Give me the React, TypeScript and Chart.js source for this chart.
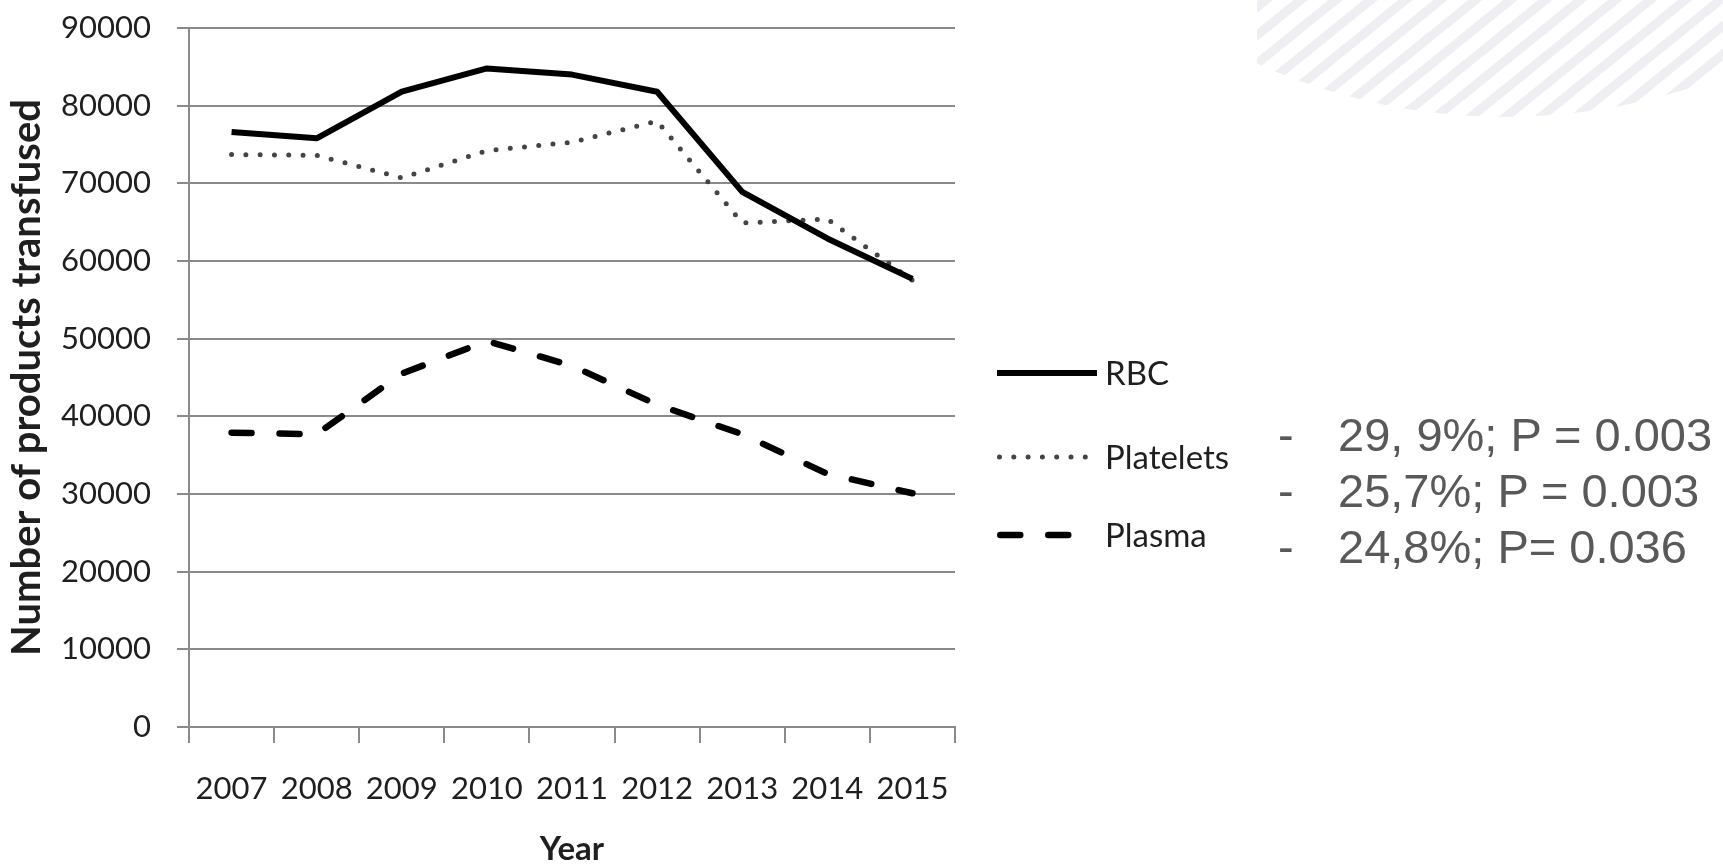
import React, { useEffect, useRef } from "react";
import { Chart, registerables } from "chart.js";

Chart.register(...registerables);

// ---- data ----
const years = ["2007", "2008", "2009", "2010", "2011", "2012", "2013", "2014", "2015"];
const rbc = [76600, 75800, 81800, 84800, 84000, 81800, 68900, 62900, 57700];
const platelets = [73700, 73600, 70700, 74200, 75300, 78000, 64900, 65400, 57500];
const plasma = [37900, 37700, 45500, 49700, 46500, 41500, 37700, 32600, 30100];
const seriesLabels = ["RBC", "Platelets", "Plasma"];
const yMin = 0;
const yMax = 90000;
const yStep = 10000;
const yTitle = "Number of products transfused";
const xTitle = "Year";
const statLines = ["29, 9%; P = 0.003", "25,7%; P = 0.003", "24,8%; P= 0.036"];

// ---- styling ----
const GRID = "#8a8a8a";
const TEXT = "#1f1f1f";
const legendRows = [373, 457, 535];
const legendEnds = [1097, 1086, 1068.25];

const sideLegend = {
  id: "sideLegend",
  afterDraw(chart: any) {
    const ctx = chart.ctx;
    chart.data.datasets.forEach((ds: any, i: number) => {
      const y = legendRows[i];
      ctx.save();
      ctx.strokeStyle = ds.borderColor;
      ctx.lineWidth = ds.borderWidth;
      ctx.lineCap = ds.borderCapStyle || "butt";
      ctx.setLineDash(ds.borderDash || []);
      const x0 = ds.borderCapStyle === "round" ? 997 + ds.borderWidth / 2 : 997;
      ctx.beginPath();
      ctx.moveTo(x0, y);
      ctx.lineTo(legendEnds[i], y);
      ctx.stroke();
      ctx.setLineDash([]);
      ctx.fillStyle = TEXT;
      ctx.font = '33px Lato, "Open Sans", sans-serif';
      ctx.textBaseline = "middle";
      ctx.textAlign = "left";
      ctx.fillText(ds.label, 1105, y + 1);
      ctx.restore();
    });
  },
};

export default function App() {
  const ref = useRef<HTMLCanvasElement | null>(null);

  useEffect(() => {
    if (!ref.current) return;
    let alive = true;
    const chart = new Chart(ref.current, {
      type: "line",
      data: {
        labels: years,
        datasets: [
          {
            label: seriesLabels[0],
            data: rbc,
            borderColor: "#000000",
            borderWidth: 6,
            borderCapStyle: "butt",
            borderJoinStyle: "round",
            pointRadius: 0,
            tension: 0,
          },
          {
            label: seriesLabels[1],
            data: platelets,
            borderColor: "#444444",
            borderWidth: 5,
            borderDash: [0, 14.3],
            borderCapStyle: "round",
            pointRadius: 0,
            tension: 0,
          },
          {
            label: seriesLabels[2],
            data: plasma,
            borderColor: "#000000",
            borderWidth: 6.5,
            borderDash: [20, 28],
            borderCapStyle: "round",
            pointRadius: 0,
            tension: 0,
          },
        ],
      },
      options: {
        responsive: false,
        animation: false,
        events: [],
        layout: { padding: { left: 0, top: 28, right: 768, bottom: 0 } },
        plugins: {
          legend: { display: false },
          tooltip: { enabled: false },
        },
        scales: {
          x: {
            type: "category",
            offset: true,
            afterFit: (s: any) => {
              s.height = 141;
            },
            grid: {
              display: true,
              offset: true,
              drawOnChartArea: false,
              drawTicks: true,
              tickLength: 16,
              color: GRID,
              lineWidth: 2,
            },
            border: { display: true, color: GRID, width: 2 },
            ticks: {
              color: TEXT,
              padding: 27,
              maxRotation: 0,
              autoSkip: false,
              font: { family: 'Lato, "Open Sans", sans-serif', size: 31 },
            },
            title: {
              display: true,
              text: xTitle,
              color: TEXT,
              padding: { top: 0, bottom: 0 },
              font: { family: 'Lato, "Open Sans", sans-serif', size: 33, weight: "bold", lineHeight: 1.1 },
            },
          },
          y: {
            min: yMin,
            max: yMax,
            afterFit: (s: any) => {
              s.width = 189;
              s.paddingTop = 0;
              s.paddingBottom = 0;
            },
            grid: {
              color: GRID,
              lineWidth: 2,
              drawTicks: true,
              tickLength: 12,
            },
            border: { display: true, color: GRID, width: 2 },
            ticks: {
              stepSize: yStep,
              color: TEXT,
              padding: 26,
              callback: (v: any) => String(v),
              font: { family: 'Lato, "Open Sans", sans-serif', size: 31 },
            },
            title: {
              display: true,
              text: yTitle,
              color: TEXT,
              padding: { top: 5, bottom: 0 },
              font: { family: 'Lato, "Open Sans", sans-serif', size: 40, weight: "bold", lineHeight: 1.1 },
            },
          },
        },
      },
      plugins: [sideLegend],
    } as any);

    if ((document as any).fonts && (document as any).fonts.ready) {
      (document as any).fonts.ready.then(() => {
        if (alive) chart.update();
      });
    }

    return () => {
      alive = false;
      chart.destroy();
    };
  }, []);

  return (
    <div>
      <svg
        width={1723}
        height={868}
        style={{ position: "fixed", left: 0, top: 0, pointerEvents: "none" }}
      >
        <defs>
          <pattern
            id="hatch"
            width="22"
            height="22"
            patternUnits="userSpaceOnUse"
            patternTransform="rotate(-39)"
          >
            <rect x="0" y="0" width="22" height="9" fill="#eeeef3" />
          </pattern>
          <clipPath id="circ">
            <circle cx="1505" cy="-485" r="602" />
          </clipPath>
        </defs>
        <g clipPath="url(#circ)">
          <rect x="1257" y="0" width="466" height="140" fill="url(#hatch)" />
        </g>
      </svg>
      <canvas
        ref={ref}
        width={1723}
        height={868}
        style={{ position: "fixed", left: 0, top: 0, display: "block" }}
      />
      <div
        style={{
          position: "fixed",
          left: 1278,
          top: 407,
          font: '47px "Liberation Sans", Arial, sans-serif',
          lineHeight: "56px",
          color: "#595959",
          whiteSpace: "pre",
        }}
      >
        {statLines.map((s, i) => (
          <div key={i} style={{ display: "flex" }}>
            <span style={{ display: "inline-block", width: 60 }}>-</span>
            <span>{s}</span>
          </div>
        ))}
      </div>
    </div>
  );
}
